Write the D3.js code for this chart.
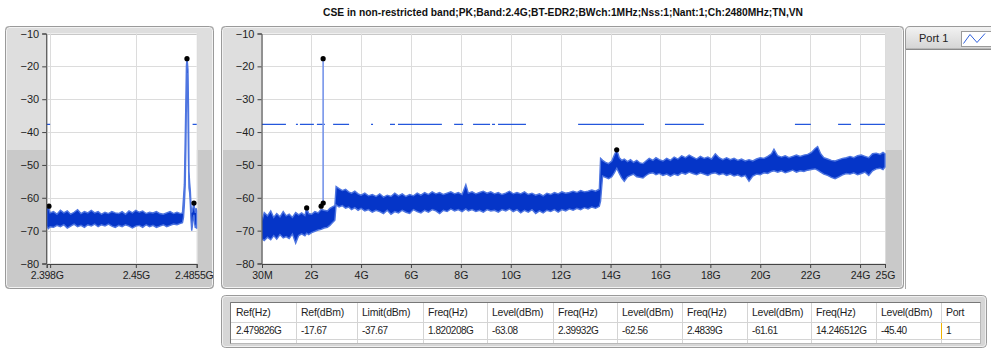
<!DOCTYPE html>
<html><head><meta charset="utf-8">
<script src="https://cdn.jsdelivr.net/npm/d3@7"></script>
<style>
body{margin:0;background:#fff;}
svg{display:block;font-family:"Liberation Sans",Arial,sans-serif;}
</style>
</head><body>
<svg id="c" width="991" height="352"></svg>
<script>
// ---------------- DATA ----------------
const titleText = "CSE in non-restricted band;PK;Band:2.4G;BT-EDR2;BWch:1MHz;Nss:1;Nant:1;Ch:2480MHz;TN,VN";
const yTicks = [-10,-20,-30,-40,-50,-60,-70,-80];
const leftTicks = [2.398, 2.4, 2.45, 2.4855];
const leftTickLabels = ["2.398G", "", "2.45G", "2.4855G"];
const rightTicks = [0.03,2,4,6,8,10,12,14,16,18,20,22,24,25];
const rightTickLabels = ["30M","2G","4G","6G","8G","10G","12G","14G","16G","18G","20G","22G","24G","25G"];

const limitLevel = -37.67;
const leftLimitStart = [2.398, 2.4831];
const leftLimitEnd   = [2.4000, 2.4855];
const rightLimitStart = [0.03,1.39,1.55,2.23,2.88,4.40,5.16,5.48,7.73,8.49,9.25,9.49,12.70,16.18,21.39,23.12,24.0];
const rightLimitEnd   = [0.99,1.47,2.11,2.55,3.52,4.48,5.36,7.24,8.09,9.17,9.37,10.61,15.34,17.74,22.03,23.64,25.0];

const markerFreq  = [2.479826, 1.820208, 2.39932, 2.4839, 14.246512];
const markerLevel = [-17.67, -63.08, -62.56, -61.61, -45.40];

// left (zoomed) trace: frequency GHz, upper and lower envelope dBm
const leftFreq = [2.398,2.399,2.400,2.402,2.404,2.406,2.408,2.410,2.412,2.414,2.416,2.418,2.420,2.422,2.424,2.426,2.428,2.430,2.432,2.434,2.436,2.438,2.440,2.442,2.444,2.446,2.448,2.450,2.452,2.454,2.456,2.458,2.460,2.462,2.464,2.466,2.468,2.470,2.472,2.474,2.476,2.4772,
  2.4778,2.4783,2.4788,2.4792,2.4795,2.4798,2.4801,2.4804,2.4807,2.4810,2.4814,2.4818,2.4822,2.4826,2.4830,2.4835,2.4839,2.4843,2.4847,2.4851,2.4855];
const leftHi = [-63.4,-62.8,-64.6,-64.2,-65.0,-63.8,-64.6,-64.0,-65.0,-64.4,-63.6,-64.8,-64.2,-64.6,-63.8,-64.6,-64.2,-65.0,-64.4,-64.8,-64.2,-64.6,-64.8,-64.2,-65.0,-64.0,-64.6,-63.8,-64.4,-64.0,-64.8,-64.4,-64.6,-64.2,-64.8,-65.0,-64.6,-64.2,-64.8,-64.4,-64.8,-64.6,
  -60.0,-56.0,-42.0,-30.0,-20.0,-17.7,-19.0,-21.0,-32.0,-52.0,-55.5,-58.0,-62.5,-64.5,-64.0,-62.5,-61.6,-63.4,-64.6,-63.2,-64.0];
const leftLo = [-68.6,-69.4,-68.8,-69.0,-68.4,-68.8,-68.2,-69.2,-68.6,-68.0,-68.8,-68.4,-69.0,-68.2,-68.6,-68.0,-68.8,-68.2,-68.6,-68.0,-68.6,-69.0,-68.4,-68.8,-68.2,-68.6,-69.2,-68.6,-68.4,-69.0,-68.2,-68.8,-68.4,-69.0,-68.6,-68.2,-68.8,-68.4,-68.0,-68.2,-67.8,-67.6,
  -66.0,-62.0,-56.0,-44.0,-30.0,-22.0,-24.0,-34.0,-48.0,-57.0,-58.5,-62.0,-67.0,-70.0,-68.5,-66.0,-65.2,-67.8,-69.2,-68.4,-69.4];

// right (full span) trace
const rightFreq = [
  0.03,0.12,0.25,0.38,0.5,0.62,0.75,0.88,1.0,1.12,1.25,1.38,1.5,1.62,1.75,1.82,1.9,2.02,2.15,2.28,2.4,2.52,2.65,2.75,2.85,2.95,
  3.0,3.12,3.25,3.38,3.5,3.62,3.75,3.88,
  4.0,4.15,4.3,4.45,4.6,4.75,4.9,5.05,5.2,5.35,5.5,5.65,5.8,5.95,6.1,6.25,6.4,6.55,6.7,6.85,7.0,7.15,7.3,7.45,7.6,7.75,7.9,8.05,
  8.2,8.3,
  8.45,8.6,8.75,8.9,9.05,9.2,9.35,9.5,9.65,9.8,9.95,10.1,10.25,10.4,10.55,10.7,10.85,11.0,11.15,11.3,11.45,11.6,11.75,11.9,12.05,12.2,12.35,12.5,12.65,12.8,12.95,13.1,13.25,13.4,13.55,
  13.6,13.68,13.8,13.92,14.05,14.15,14.25,14.35,14.45,14.55,14.68,14.8,14.92,15.05,15.18,15.3,15.42,15.55,15.7,15.82,
  15.95,16.1,16.25,16.4,16.55,16.7,16.85,17.0,17.15,17.3,17.45,17.6,17.75,17.9,18.05,18.2,18.35,18.5,18.65,18.8,
  18.95,19.1,19.25,19.4,19.55,19.7,19.85,20.0,20.15,20.3,20.45,20.55,20.7,20.85,21.0,21.15,21.3,21.45,21.6,21.75,
  21.9,22.05,22.2,22.3,22.42,22.55,22.7,22.85,23.0,23.15,23.3,23.45,23.6,23.75,23.9,24.05,24.2,24.35,24.5,24.65,
  24.8,24.92,25.0];
const rightHi = [
  -67.0,-64.5,-65.5,-64.0,-66.0,-64.8,-65.8,-64.2,-65.5,-65.0,-66.0,-64.5,-65.2,-64.6,-65.4,-63.1,-64.8,-65.0,-64.2,-64.6,-63.5,-63.8,-64.0,-63.2,-62.8,-62.4,
  -56.6,-57.2,-57.8,-57.4,-58.2,-58.6,-58.0,-58.8,
  -59.2,-58.6,-59.4,-59.0,-59.6,-58.8,-59.8,-59.2,-59.6,-58.6,-59.4,-58.8,-59.6,-59.0,-59.4,-58.6,-59.2,-58.4,-59.0,-58.2,-58.8,-58.4,-59.0,-58.6,-58.2,-58.8,-58.4,-59.0,
  -56.0,-58.6,
  -58.2,-58.8,-58.4,-58.0,-58.6,-58.2,-58.8,-58.4,-59.0,-58.6,-58.0,-58.8,-58.4,-58.8,-58.2,-59.0,-58.6,-59.2,-58.8,-59.4,-58.6,-59.0,-58.4,-58.8,-58.2,-58.6,-58.4,-58.0,-58.4,-57.8,-58.2,-58.0,-57.6,-58.0,-57.4,
  -48.0,-48.6,-49.2,-49.6,-48.8,-47.0,-45.4,-47.8,-48.6,-48.2,-49.0,-48.4,-49.2,-48.6,-49.4,-49.6,-48.8,-48.0,-48.6,-47.8,
  -48.4,-48.8,-48.0,-48.6,-47.6,-48.2,-47.2,-47.8,-47.0,-47.6,-48.2,-47.4,-48.0,-47.6,-48.2,-46.6,-47.8,-48.4,-47.8,-48.4,
  -48.0,-48.6,-48.2,-48.8,-48.4,-48.8,-48.2,-47.8,-48.0,-47.4,-46.6,-45.2,-47.2,-47.6,-47.2,-47.8,-47.4,-47.0,-47.4,-47.0,
  -46.8,-46.2,-45.0,-44.4,-46.6,-47.8,-48.2,-48.6,-48.8,-48.4,-48.0,-47.8,-47.4,-47.8,-47.2,-47.0,-47.4,-47.8,-46.6,-46.4,
  -46.8,-46.2,-46.6];
const rightLo = [
  -72.5,-73.0,-72.0,-72.8,-71.5,-72.6,-71.2,-72.2,-71.8,-72.4,-71.0,-73.8,-71.5,-71.0,-71.6,-70.8,-71.2,-70.6,-70.2,-69.8,-69.6,-69.2,-69.0,-68.4,-67.6,-66.8,
  -62.2,-62.8,-62.4,-63.2,-62.8,-63.6,-63.0,-63.8,
  -63.2,-64.0,-63.6,-64.4,-63.8,-64.2,-64.8,-63.8,-65.0,-64.2,-64.6,-63.8,-64.4,-64.8,-63.6,-64.2,-64.6,-63.8,-64.4,-63.6,-64.0,-64.8,-63.8,-64.2,-63.4,-64.0,-63.6,-64.2,
  -63.4,-64.0,
  -63.6,-64.2,-63.8,-64.4,-63.6,-64.0,-63.8,-64.4,-63.6,-64.0,-63.4,-64.2,-63.6,-64.6,-63.8,-64.4,-63.6,-64.8,-64.0,-64.6,-63.8,-64.2,-63.6,-64.4,-63.6,-64.0,-63.4,-63.8,-63.2,-63.6,-63.0,-63.4,-62.8,-63.2,-62.6,
  -61.0,-53.4,-53.8,-54.2,-53.6,-52.4,-51.0,-52.6,-54.0,-55.0,-53.6,-53.2,-52.8,-53.6,-53.8,-54.0,-53.2,-52.6,-52.4,-53.0,
  -52.6,-53.2,-52.8,-53.4,-52.8,-53.2,-52.4,-52.8,-52.2,-52.6,-53.0,-52.4,-52.8,-53.2,-52.6,-52.4,-53.0,-52.6,-53.2,-52.8,
  -53.4,-53.0,-53.6,-53.2,-55.0,-53.4,-52.8,-53.0,-52.4,-52.6,-52.0,-51.8,-52.2,-51.8,-52.4,-52.0,-51.6,-52.2,-51.8,-52.0,
  -51.6,-51.4,-51.2,-51.6,-52.2,-52.8,-53.2,-53.8,-54.2,-53.6,-53.0,-52.6,-52.8,-52.4,-53.0,-52.6,-52.2,-53.2,-51.8,-51.2,
  -51.0,-51.4,-50.6];
const peakBase = -62.0;

const legendLabel = "Port 1";
const tableHeaders = ["Ref(Hz)","Ref(dBm)","Limit(dBm)","Freq(Hz)","Level(dBm)","Freq(Hz)","Level(dBm)","Freq(Hz)","Level(dBm)","Freq(Hz)","Level(dBm)","Port"];
const tableRow = ["2.479826G","-17.67","-37.67","1.820208G","-63.08","2.39932G","-62.56","2.4839G","-61.61","14.246512G","-45.40","1"];

// ---------------- DRAW ----------------
const svg = d3.select("#c");
const defs = svg.append("defs");
const SPLIT = 150;
const TRACE = "#0535c8", TRACE_EDGE = "#4e75e0", LIGHT = "#7694ea";
const FONT = '"Liberation Sans",Arial,sans-serif';

function panel(x0, y0, x1, y1, id) {
  defs.append("clipPath").attr("id", id).append("rect")
    .attr("x", x0).attr("y", y0).attr("width", x1 - x0).attr("height", y1 - y0).attr("rx", 4);
  const g = svg.append("g");
  g.append("rect").attr("x", x0).attr("y", y0).attr("width", x1 - x0).attr("height", y1 - y0)
    .attr("rx", 4).attr("fill", "#c9c9c9");
  g.append("rect").attr("clip-path", `url(#${id})`).attr("x", x0).attr("y", y0)
    .attr("width", x1 - x0).attr("height", SPLIT - y0).attr("fill", "#dedede");
  g.append("rect").attr("x", x0 + 1.5).attr("y", y0 + 1.5).attr("width", x1 - x0 - 3).attr("height", y1 - y0 - 3)
    .attr("rx", 3).attr("fill", "none").attr("stroke", "#f2f2f2").attr("stroke-width", 1);
  g.append("rect").attr("x", x0 + 0.5).attr("y", y0 + 0.5).attr("width", x1 - x0 - 1).attr("height", y1 - y0 - 1)
    .attr("rx", 4).attr("fill", "none").attr("stroke", "#9a9a9a").attr("stroke-width", 1);
  return g;
}

function plot(g, clipPanel, x, y, xTicks, xLabels, freq, hi, lo, limS, limE, markersIdx, pid, withPeak) {
  const [x0, x1] = x.range();
  const [yb, yt] = y.range();
  const root = g.append("g").attr("clip-path", `url(#${clipPanel})`);
  root.append("rect").attr("x", x0).attr("y", yt).attr("width", x1 - x0).attr("height", yb - yt).attr("fill", "#fff");
  root.append("g").selectAll("line").data(yTicks).join("line")
    .attr("x1", x0).attr("x2", x1).attr("y1", d => Math.round(y(d)) + 0.5).attr("y2", d => Math.round(y(d)) + 0.5)
    .attr("stroke", d => d === -10 ? "#c8c8c8" : "#dcdcdc");
  root.append("g").selectAll("line").data(xTicks).join("line")
    .attr("x1", d => Math.round(x(d)) + 0.5).attr("x2", d => Math.round(x(d)) + 0.5).attr("y1", yt).attr("y2", yb)
    .attr("stroke", "#dcdcdc");
  defs.append("clipPath").attr("id", pid).append("rect")
    .attr("x", x0).attr("y", yt).attr("width", x1 - x0 + 1).attr("height", yb - yt);
  const pg = root.append("g").attr("clip-path", `url(#${pid})`);
  pg.append("g").selectAll("line").data(d3.zip(limS, limE)).join("line")
    .attr("x1", d => x(d[0])).attr("x2", d => x(d[1]))
    .attr("y1", y(limitLevel)).attr("y2", y(limitLevel))
    .attr("stroke", "#2457dc").attr("stroke-width", 1.3);
  if (withPeak) {
    pg.append("line").attr("x1", x(markerFreq[0])).attr("x2", x(markerFreq[0]))
      .attr("y1", y(peakBase)).attr("y2", y(markerLevel[0]))
      .attr("stroke", LIGHT).attr("stroke-width", 1.6);
  }
  const pts = d3.zip(freq, hi, lo);
  const area = d3.area().x(d => x(d[0])).y0(d => y(d[2])).y1(d => y(d[1]));
  pg.append("path").datum(pts).attr("d", area)
    .attr("fill", TRACE).attr("stroke", TRACE_EDGE).attr("stroke-width", 1.4).attr("stroke-linejoin", "miter");
  pg.append("g").selectAll("circle").data(markersIdx).join("circle")
    .attr("cx", i => x(markerFreq[i])).attr("cy", i => y(markerLevel[i])).attr("r", 2.6).attr("fill", "#000");
  const ya = root.append("g").attr("transform", `translate(${x0 - 0.5},0)`)
    .call(d3.axisLeft(y).tickValues(yTicks).tickSize(4).tickPadding(3).tickFormat(d3.format("d")));
  const xa = root.append("g").attr("transform", `translate(0,${yb + 0.5})`)
    .call(d3.axisBottom(x).tickValues(xTicks).tickSize(4).tickPadding(4).tickFormat((d, i) => xLabels[i]));
  [ya, xa].forEach(a => {
    a.select(".domain").attr("stroke", "#444");
    a.selectAll(".tick line").attr("stroke", "#444");
    a.selectAll("text").attr("fill", "#1e1e1e").style("font-size", "10.5px").style("font-family", FONT);
  });
  ya.selectAll("text").style("font-size", "11px");
  return xa;
}

const yL = d3.scaleLinear().domain([-80, -10]).range([263.5, 33.5]);
const xL = d3.scaleLinear().domain([leftTicks[0], leftTicks[leftTicks.length - 1]]).range([46.7, 196.7]);
const xR = d3.scaleLinear().domain([rightTicks[0], rightTicks[rightTicks.length - 1]]).range([262, 885]);

const gL = panel(5, 26, 214, 289, "panL");
const xaL = plot(gL, "panL", xL, yL, leftTicks, leftTickLabels, leftFreq, leftHi, leftLo, leftLimitStart, leftLimitEnd,
  markerFreq.map((f, i) => i).filter(i => markerFreq[i] >= leftTicks[0] && markerFreq[i] <= leftTicks[3]), "plotL", false);
xaL.selectAll("text").style("letter-spacing", "-0.3px");
xaL.selectAll(".tick").filter((d, i) => i === leftTicks.length - 1).select("text").attr("dx", -3);

const gR = panel(221, 26, 904, 289, "panR");
plot(gR, "panR", xR, yL, rightTicks, rightTickLabels, rightFreq, rightHi, rightLo, rightLimitStart, rightLimitEnd,
  markerFreq.map((f, i) => i), "plotR", true);

svg.append("text").attr("x", 563).attr("y", 16).attr("text-anchor", "middle")
  .attr("font-weight", "bold").attr("font-size", 11).attr("fill", "#111")
  .attr("textLength", 480).attr("lengthAdjust", "spacingAndGlyphs").text(titleText);

// legend
const lg = svg.append("g");
const grad = defs.append("linearGradient").attr("id", "lgGrad").attr("x1", 0).attr("x2", 0).attr("y1", 0).attr("y2", 1);
grad.append("stop").attr("offset", 0).attr("stop-color", "#f3f3f3");
grad.append("stop").attr("offset", 1).attr("stop-color", "#d4d4d4");
lg.append("line").attr("x1", 905.5).attr("x2", 905.5).attr("y1", 48).attr("y2", 289).attr("stroke", "#a8a8a8");
lg.append("path").attr("d", "M905.5,49 V31 Q905.5,26.5 910,26.5 H995 V49 Z")
  .attr("fill", "url(#lgGrad)").attr("stroke", "#9a9a9a");
lg.append("line").attr("x1", 906).attr("x2", 995).attr("y1", 49.5).attr("y2", 49.5).attr("stroke", "#8a8a8a");
lg.append("text").attr("x", 919).attr("y", 42).attr("font-size", 11).attr("fill", "#222").text(legendLabel);
lg.append("rect").attr("x", 961.5).attr("y", 31.5).attr("width", 34).attr("height", 15).attr("fill", "#fff").attr("stroke", "#9a9a9a");
lg.append("polyline").attr("points", "963.5,43.5 970,34.5 977,42.5 985,33.5").attr("fill", "none").attr("stroke", "#2f5fdc").attr("stroke-width", 1);

// table
const colEdges = [231, 296, 357, 423, 487, 553, 617, 682, 747, 811, 876, 941, 981];
const tg = svg.append("g");
tg.append("rect").attr("x", 221.5).attr("y", 295.5).attr("width", 765).attr("height", 52).attr("rx", 4)
  .attr("fill", "#d6d6d6").attr("stroke", "#9a9a9a");
tg.append("rect").attr("x", 222.5).attr("y", 296.5).attr("width", 763).attr("height", 50).attr("rx", 3)
  .attr("fill", "none").attr("stroke", "#f0f0f0");
tg.append("rect").attr("x", 230.5).attr("y", 302.5).attr("width", 750).attr("height", 41).attr("fill", "#fff").attr("stroke", "#b8b8b8");
tg.append("path").attr("d", "M230.5,343.5 V302.5 H980.5").attr("fill", "none").attr("stroke", "#777");
[322.5, 339.5].forEach(yy => tg.append("line").attr("x1", 231).attr("x2", 980).attr("y1", yy).attr("y2", yy).attr("stroke", "#d4d4d4"));
tg.append("g").selectAll("line").data(colEdges.slice(1, -1)).join("line")
  .attr("x1", d => d + 0.5).attr("x2", d => d + 0.5).attr("y1", 303).attr("y2", 343).attr("stroke", "#d4d4d4");
tg.append("line").attr("x1", colEdges[11] + 0.5).attr("x2", colEdges[11] + 0.5).attr("y1", 323).attr("y2", 339)
  .attr("stroke", "#f0b400").attr("stroke-width", 1);
tg.append("g").selectAll("text").data(tableHeaders).join("text")
  .attr("x", (d, i) => colEdges[i] + 5).attr("y", 316).attr("font-size", 10.5).attr("letter-spacing", "-0.25px")
  .attr("fill", "#1e1e1e").text(d => d);
tg.append("g").selectAll("text").data(tableRow).join("text")
  .attr("x", (d, i) => colEdges[i] + 5).attr("y", 334).attr("font-size", 10).attr("letter-spacing", "-0.45px")
  .attr("fill", "#1e1e1e").text(d => d);
</script>
</body></html>
